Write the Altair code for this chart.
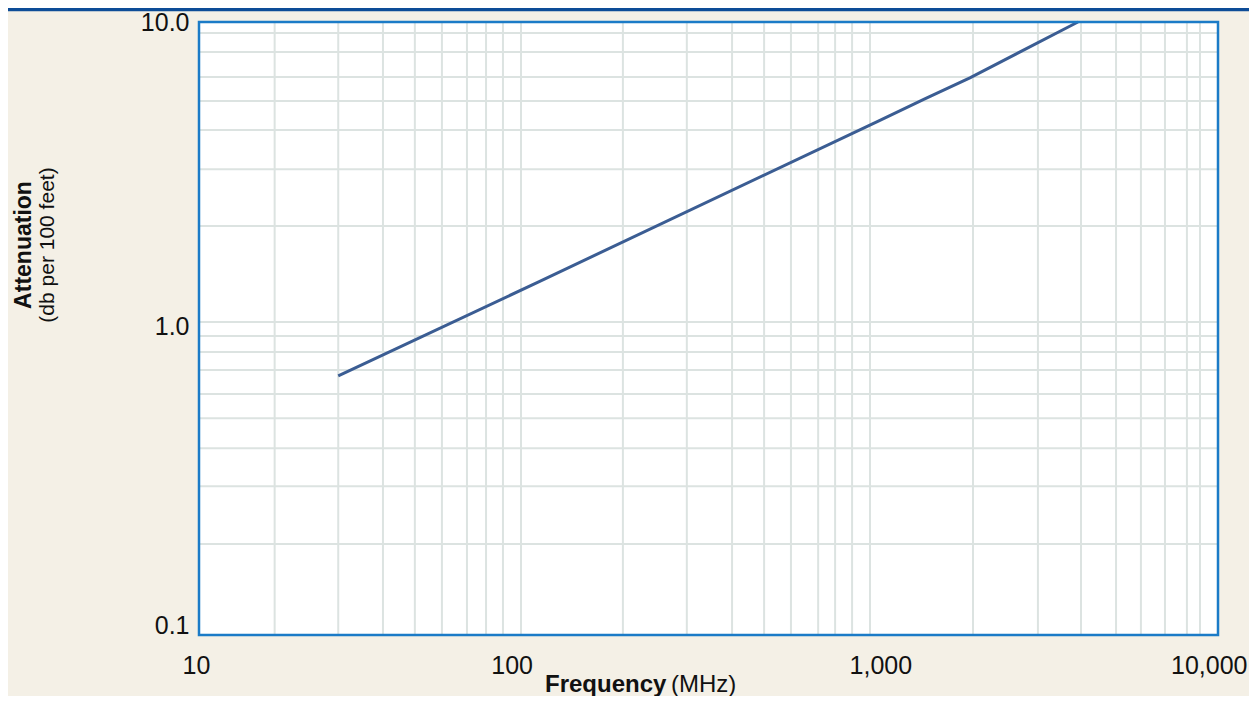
import altair as alt
import pandas as pd

# Cable attenuation curve
freq_mhz = [25.7, 100, 1000, 1370, 1860, 3870]
atten_db = [0.70, 1.42, 4.75, 5.61, 6.57, 10.0]

# Background grid positions (as drawn in the original figure)
grid_x = [16.7, 25.7, 34.8, 43.2, 51.9, 61.5, 70.0, 78.5, 88.7,
          177, 273, 371, 461, 553, 665, 746, 837, 945,
          1900, 2950, 3950, 5010, 5930, 6980, 8100, 8850]
grid_y = [9.21, 7.98, 6.61, 5.52, 4.44, 3.31, 2.16, 1.05,
          0.945, 0.838, 0.732, 0.611, 0.510, 0.407, 0.306, 0.198]

x_ticks = [10, 100, 1000, 10000]
y_ticks = [0.1, 1, 10]

W, H = 1019, 613
FONT = "Liberation Sans, Arial, sans-serif"

xscale = alt.Scale(type="log", domain=[10, 10000], nice=False)
yscale = alt.Scale(type="log", domain=[0.1, 10], nice=False)

xaxis = alt.Axis(
    values=x_ticks, format=",", title=None, grid=False,
    ticks=False, domain=False, labelFlush=False,
    labelFontSize=25, labelFont=FONT, labelColor="#111111",
    labelPadding=18,
    labelAlign={"expr": "datum.value >= 10000 ? 'right' : 'center'"},
    labelOffset={"expr": "datum.value >= 10000 ? 29 : (datum.value == 100 ? -27 : (datum.value == 10 ? -3 : 2))"},
)
yaxis = alt.Axis(
    values=y_ticks, format=".1f", title=None, grid=False,
    ticks=False, domain=False, labelFlush=False,
    labelFontSize=25, labelFont=FONT, labelColor="#111111",
    labelPadding=10,
    labelOffset={"expr": "datum.value < 0.5 ? -10 : (datum.value < 5 ? -2 : 0)"},
)

line_df = pd.DataFrame({"f": freq_mhz, "a": atten_db})
gx_df = pd.DataFrame({"f": grid_x})
gy_df = pd.DataFrame({"a": grid_y})

vgrid = alt.Chart(gx_df).mark_rule(color="#dce3e1", strokeWidth=2).encode(
    x=alt.X("f:Q", scale=xscale, axis=xaxis)
)
hgrid = alt.Chart(gy_df).mark_rule(color="#dce3e1", strokeWidth=2).encode(
    y=alt.Y("a:Q", scale=yscale, axis=yaxis)
)

line = alt.Chart(line_df).mark_line(color="#3b5d93", strokeWidth=3).encode(
    x=alt.X("f:Q", scale=xscale, axis=xaxis),
    y=alt.Y("a:Q", scale=yscale, axis=yaxis),
)

one = pd.DataFrame({"k": [0]})

border = alt.Chart(one).mark_rect(
    fill=None, stroke="#1b7bc7", strokeWidth=2.5
).encode(x=alt.value(0), x2=alt.value(W), y=alt.value(0), y2=alt.value(H))

topbar = alt.Chart(one).mark_rule(
    color="#0d4c97", strokeWidth=3.5
).encode(x=alt.value(-191), x2=alt.value(W + 60), y=alt.value(-12.5))

xt_bold = alt.Chart(one).mark_text(
    text="Frequency", font=FONT, fontSize=24, fontWeight="bold",
    align="left", baseline="alphabetic", color="#111111"
).encode(x=alt.value(346), y=alt.value(670))
xt_reg = alt.Chart(one).mark_text(
    text="(MHz)", font=FONT, fontSize=24, align="left",
    baseline="alphabetic", color="#111111"
).encode(x=alt.value(472), y=alt.value(670))

yt_bold = alt.Chart(one).mark_text(
    text="Attenuation", font=FONT, fontSize=23, fontWeight="bold",
    align="center", baseline="middle", angle=270, color="#111111"
).encode(x=alt.value(-175), y=alt.value(223))
yt_reg = alt.Chart(one).mark_text(
    text="(db per 100 feet)", font=FONT, fontSize=21,
    align="center", baseline="middle", angle=270, color="#111111"
).encode(x=alt.value(-151), y=alt.value(223))

chart = alt.layer(
    vgrid, hgrid, line, border, topbar, xt_bold, xt_reg, yt_bold, yt_reg
).properties(
    width=W, height=H,
    autosize=alt.AutoSizeParams(type="none"),
    padding={"left": 191, "top": 14, "right": 31, "bottom": 61},
    background="#f4f0e6",
).configure_view(
    fill="white", stroke=None
)

chart.save("out.html", embed_options={"renderer": "svg", "actions": False})
